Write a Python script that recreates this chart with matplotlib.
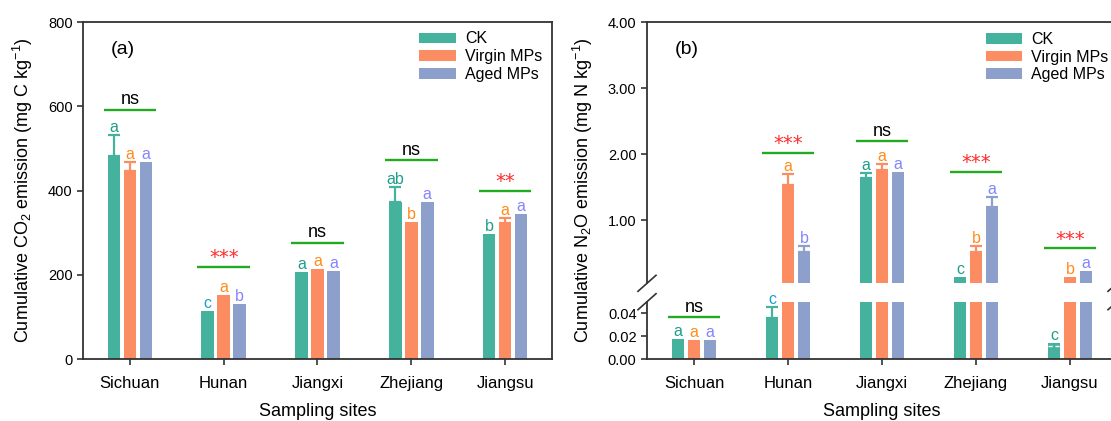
import matplotlib
matplotlib.use("Agg")
import matplotlib.pyplot as plt
import numpy as np

plt.rcParams['font.family'] = ['Liberation Sans', 'DejaVu Sans']
plt.rcParams['mathtext.fontset'] = 'custom'
plt.rcParams['mathtext.rm'] = 'Liberation Sans'
plt.rcParams['mathtext.it'] = 'Liberation Sans:italic'

# ---------------- data ----------------
sites = ["Sichuan", "Hunan", "Jiangxi", "Zhejiang", "Jiangsu"]
series = ["CK", "Virgin MPs", "Aged MPs"]

co2_ck = [481, 115, 207, 374, 298]
co2_virgin = [447, 153, 214, 325, 324]
co2_aged = [467, 131, 210, 373, 344]
co2_ck_err = [50, 0, 0, 34, 0]
co2_virgin_err = [20, 0, 0, 0, 11]
co2_aged_err = [0, 0, 0, 0, 0]
co2_letters_ck = ["a", "c", "a", "ab", "b"]
co2_letters_virgin = ["a", "a", "a", "b", "a"]
co2_letters_aged = ["a", "b", "a", "a", "a"]
co2_sig = ["ns", "***", "ns", "ns", "**"]
co2_sig_y = [592, 220, 276, 472, 400]

n2o_ck = [0.0174, 0.0357, 1.64, 0.14, 0.0139]
n2o_virgin = [0.0168, 1.53, 1.76, 0.51, 0.14]
n2o_aged = [0.0168, 0.52, 1.73, 1.19, 0.23]
n2o_ck_err = [0.0, 0.0098, 0.07, 0.0, 0.0]
n2o_virgin_err = [0.0, 0.17, 0.09, 0.10, 0.0]
n2o_aged_err = [0.0, 0.09, 0.0, 0.16, 0.0]
n2o_letters_ck = ["a", "c", "a", "c", "c"]
n2o_letters_virgin = ["a", "a", "a", "b", "b"]
n2o_letters_aged = ["a", "b", "a", "a", "a"]
n2o_sig = ["ns", "***", "ns", "***", "***"]
n2o_sig_y = [0.0365, 2.02, 2.19, 1.73, 0.57]

bar_colors = ["#45b29d", "#fc8d62", "#8da0cb"]
letter_colors = ["#1f9e89", "#ff8c1a", "#8585ff"]
hunan_c_color = "#1a9fd0"
green = "#22aa22"
red = "#ff2a2a"
spine_c = "#333333"

W, H = 1111, 421
fig = plt.figure(figsize=(W / 100, H / 100), dpi=100)


def ax_rect(l, r, t, b):
    return [l / W, 1 - b / H, (r - l) / W, (b - t) / H]


x = np.arange(len(sites))
offs = [-0.17, 0.0, 0.17]
bw = 0.135


def style(ax, spines=("left", "bottom", "top", "right")):
    for s in ["left", "bottom", "top", "right"]:
        ax.spines[s].set_visible(s in spines)
        ax.spines[s].set_color(spine_c)
        ax.spines[s].set_linewidth(1.3)
    ax.tick_params(axis='both', colors=spine_c, labelcolor='black',
                   direction='out', length=4, width=1.2, labelsize=10.5)


def draw_bars(ax, vals, errs, err_min=None):
    for i in range(3):
        ax.bar(x + offs[i], vals[i], width=bw, color=bar_colors[i],
               edgecolor='none', zorder=2, label=series[i])
        v = np.array(vals[i])
        ev = np.array(errs[i])
        m = ev > 0
        if err_min is not None:
            m = m & (v >= err_min)
        if m.any():
            ax.errorbar((x + offs[i])[m], v[m],
                        yerr=[np.zeros(m.sum()), ev[m]], fmt='none',
                        ecolor=bar_colors[i], elinewidth=1.6, capsize=4.2,
                        capthick=1.6, zorder=3)


def letters(ax, vals, errs, labs, ymin=None, ymax=None):
    for i in range(3):
        for j in range(len(sites)):
            top = vals[i][j] + errs[i][j]
            if ymin is not None and not (ymin <= top <= ymax):
                continue
            col = letter_colors[i]
            if i == 0 and j == 1:
                col = hunan_c_color
            ax.annotate(labs[i][j], (x[j] + offs[i], top), xytext=(0, 2.2),
                        textcoords='offset points', ha='center', va='baseline',
                        fontsize=11.5, color=col, annotation_clip=False, zorder=5)


def sig(ax, j, y, s):
    ax.plot([x[j] - 0.28, x[j] + 0.28], [y, y], color=green, lw=1.7,
            solid_capstyle='butt', zorder=4, clip_on=False)
    if s == "ns":
        ax.annotate(s, (x[j], y), xytext=(0, 4), textcoords='offset points',
                    ha='center', va='baseline', fontsize=13, color='black',
                    annotation_clip=False)
    else:
        ax.annotate(s, (x[j], y), xytext=(0, 2.5), textcoords='offset points',
                    ha='center', va='baseline', fontsize=14, color=red,
                    family='DejaVu Sans', annotation_clip=False)


leg_kw = dict(loc='upper left', frameon=False, fontsize=11.5, handlelength=2.3,
              handleheight=0.65, handletextpad=0.55, labelspacing=0.17,
              borderpad=0, borderaxespad=0)

# ---------------- panel (a) ----------------
axa = fig.add_axes(ax_rect(83, 552, 22, 359.3))
style(axa)
vals_a = [co2_ck, co2_virgin, co2_aged]
errs_a = [co2_ck_err, co2_virgin_err, co2_aged_err]
draw_bars(axa, vals_a, errs_a)
axa.set_xlim(-0.5, 4.5)
axa.set_ylim(0, 800)
axa.set_yticks([0, 200, 400, 600, 800])
axa.set_xticks(x)
axa.set_xticklabels(sites, fontsize=12)
axa.tick_params(axis='x', pad=8)
letters(axa, vals_a, errs_a, [co2_letters_ck, co2_letters_virgin, co2_letters_aged])
for j in range(5):
    sig(axa, j, co2_sig_y[j], co2_sig[j])
axa.text(-0.08, 735, "(a)", fontsize=14, ha='center', va='center')
axa.legend(bbox_to_anchor=(0.717, 0.972), **leg_kw)

fig.text(23 / W, 1 - 190 / H,
         "Cumulative CO$_2$ emission (mg C kg$^{-1}$)", rotation=90,
         ha='center', va='center', fontsize=13)
fig.text(317.5 / W, 1 - 412 / H, "Sampling sites", ha='center', va='center',
         fontsize=13)

# ---------------- panel (b) ----------------
axu = fig.add_axes(ax_rect(647, 1117, 22, 283.3))
axl = fig.add_axes(ax_rect(647, 1117, 301.7, 359.3))
style(axu, ("left", "top", "right"))
style(axl, ("left", "bottom", "right"))
vals_b = [n2o_ck, n2o_virgin, n2o_aged]
errs_b = [n2o_ck_err, n2o_virgin_err, n2o_aged_err]
draw_bars(axu, vals_b, errs_b, err_min=0.05)
draw_bars(axl, vals_b, errs_b)
for ax in (axu, axl):
    ax.set_xlim(-0.5, 4.5)
# small white mark inside Jiangsu CK bar
axl.plot([x[4] + offs[0] - 0.06, x[4] + offs[0] + 0.06], [0.0118, 0.0118],
         color='white', lw=1.0, ls=(0, (3, 2)), zorder=3)

axu.set_ylim(0.041, 4.0)
axu.set_yticks([1, 2, 3, 4])
axu.set_yticklabels(["1.00", "2.00", "3.00", "4.00"])
axu.set_xticks([])
axl.set_ylim(0, 0.05)
axl.set_yticks([0, 0.02, 0.04])
axl.set_yticklabels(["0.00", "0.02", "0.04"])
axl.set_xticks(x)
axl.set_xticklabels(sites, fontsize=12)
axl.tick_params(axis='x', pad=8)

letters(axu, vals_b, errs_b, [n2o_letters_ck, n2o_letters_virgin, n2o_letters_aged],
        ymin=0.05, ymax=4.0)
letters(axl, vals_b, errs_b, [n2o_letters_ck, n2o_letters_virgin, n2o_letters_aged],
        ymin=0.0, ymax=0.05)
for j in range(5):
    ax = axl if n2o_sig_y[j] < 0.05 else axu
    sig(ax, j, n2o_sig_y[j], n2o_sig[j])
axu.text(-0.08, 3.58, "(b)", fontsize=14, ha='center', va='center')
axu.legend(bbox_to_anchor=(0.7206, 0.962), **leg_kw)

# break marks
for xc in (647, 1117):
    for yc in (283.3, 301.7):
        fig.add_artist(plt.Line2D([(xc - 9) / W, (xc + 9) / W],
                                  [1 - (yc + 8) / H, 1 - (yc - 8) / H],
                                  color=spine_c, lw=1.2))

fig.text(583 / W, 1 - 190 / H,
         "Cumulative N$_2$O emission (mg N kg$^{-1}$)", rotation=90,
         ha='center', va='center', fontsize=13)
fig.text(882 / W, 1 - 412 / H, "Sampling sites", ha='center', va='center',
         fontsize=13)

fig.savefig("out.png", dpi=100)
